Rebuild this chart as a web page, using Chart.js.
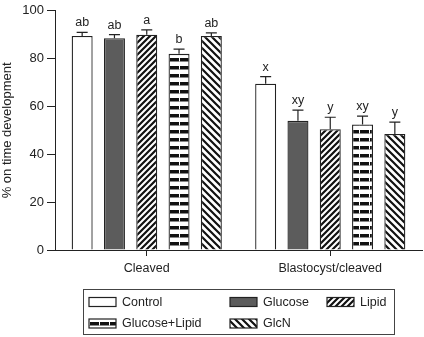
<!DOCTYPE html>
<html lang="en">
<head>
<meta charset="UTF-8">
<title>On time development</title>
<style>
    html, body { margin: 0; padding: 0; background: #fff; }
    #wrap { width: 424px; height: 337px; }
</style>
</head>
<body>
<div id="wrap"><canvas id="chart" width="424" height="337"></canvas></div>
<script src="https://cdn.jsdelivr.net/npm/chart.js"></script>
<script>
    // values
    const categories = ['Cleaved', 'Blastocyst/cleaved'];
    const seriesNames = ['Control', 'Glucose', 'Lipid', 'Glucose+Lipid', 'GlcN'];

    const control = [89.5, 69.5];
    const glucose = [88.5, 54];
    const lipid = [90, 50.5];
    const glucoseLipid = [82, 52.5];
    const glcn = [89.5, 48.5];

    const controlErr = [1.5, 3];
    const glucoseErr = [1.5, 4.5];
    const lipidErr = [2, 5];
    const glucoseLipidErr = [2, 3.5];
    const glcnErr = [1.3, 5];

    const controlLetters = ['ab', 'x'];
    const glucoseLetters = ['ab', 'xy'];
    const lipidLetters = ['a', 'y'];
    const glucoseLipidLetters = ['b', 'xy'];
    const glcnLetters = ['ab', 'y'];

    const yTicks = [0, 20, 40, 60, 80, 100];

    const ink = '#222';
    const font = "'Liberation Sans', Arial, sans-serif";

    function makePattern(w, h, draw) {
        const c = document.createElement('canvas');
        c.width = w; c.height = h;
        const g = c.getContext('2d');
        g.fillStyle = '#fff';
        g.fillRect(0, 0, w, h);
        g.fillStyle = '#111';
        g.strokeStyle = '#111';
        draw(g, w, h);
        return g.createPattern(c, 'repeat');
    }

    // "/" stripes
    const lipidPattern = makePattern(6, 6, (g, w, h) => {
        g.lineWidth = 2.2;
        g.beginPath();
        g.moveTo(-1, h + 1); g.lineTo(w + 1, -1);
        g.moveTo(-2, 2); g.lineTo(2, -2);
        g.moveTo(w - 2, h + 2); g.lineTo(w + 2, h - 2);
        g.stroke();
    });
    // "\" stripes
    const glcnPattern = makePattern(7, 7, (g, w, h) => {
        g.lineWidth = 2.2;
        g.beginPath();
        g.moveTo(-1, -1); g.lineTo(w + 1, h + 1);
        g.moveTo(-2, h - 2); g.lineTo(2, h + 2);
        g.moveTo(w - 2, -2); g.lineTo(w + 2, 2);
        g.stroke();
    });
    // horizontal brick bands
    const glPattern = makePattern(10, 8, (g, w, h) => {
        g.fillRect(0, 2, w, 3.5);
        g.fillStyle = '#fff';
        g.fillRect(w - 1, 2, 1, 3.5);
    });

    const fills = ['#ffffff', '#5c5c5c', lipidPattern, glPattern, glcnPattern];
    const values = [control, glucose, lipid, glucoseLipid, glcn];
    const errors = [controlErr, glucoseErr, lipidErr, glucoseLipidErr, glcnErr];
    const letters = [controlLetters, glucoseLetters, lipidLetters, glucoseLipidLetters, glcnLetters];

    const datasets = seriesNames.map((name, i) => ({
        label: name,
        data: values[i],
        backgroundColor: fills[i],
        borderColor: ink,
        borderWidth: 1.3,
        categoryPercentage: 0.88,
        barPercentage: 0.65
    }));

    // upper error whiskers and letters
    const errorBars = {
        id: 'errorBars',
        afterDatasetsDraw(chart) {
            const ctx = chart.ctx;
            const y = chart.scales.y;
            ctx.save();
            ctx.strokeStyle = ink;
            ctx.lineWidth = 1.2;
            ctx.fillStyle = ink;
            ctx.font = '12.5px ' + font;
            ctx.textAlign = 'center';
            ctx.textBaseline = 'alphabetic';
            chart.data.datasets.forEach((ds, i) => {
                chart.getDatasetMeta(i).data.forEach((bar, j) => {
                    const top = y.getPixelForValue(ds.data[j] + errors[i][j]);
                    ctx.beginPath();
                    ctx.moveTo(bar.x, bar.y);
                    ctx.lineTo(bar.x, top);
                    ctx.moveTo(bar.x - 5.5, top);
                    ctx.lineTo(bar.x + 5.5, top);
                    ctx.stroke();
                    ctx.fillText(letters[i][j], bar.x, top - 6);
                });
            });
            ctx.restore();
        }
    };

    // boxed legend below the plot
    const boxLegend = {
        id: 'boxLegend',
        afterDraw(chart) {
            const ctx = chart.ctx;
            ctx.save();
            ctx.strokeStyle = '#444';
            ctx.lineWidth = 1;
            ctx.strokeRect(83.5, 289.5, 311, 45);
            const cols = [89, 230, 327];
            const rows = [302, 323.5];
            const slots = [[0, 0], [1, 0], [2, 0], [0, 1], [1, 1]];
            ctx.font = '12.5px ' + font;
            ctx.textBaseline = 'middle';
            ctx.textAlign = 'left';
            chart.data.datasets.forEach((ds, i) => {
                const x = cols[slots[i][0]];
                const cy = rows[slots[i][1]];
                ctx.fillStyle = ds.backgroundColor;
                ctx.fillRect(x, cy - 4.5, 27, 9);
                ctx.strokeStyle = ink;
                ctx.lineWidth = 1.2;
                ctx.strokeRect(x, cy - 4.5, 27, 9);
                ctx.fillStyle = ink;
                ctx.fillText(ds.label, x + 33, cy + 0.5);
            });
            ctx.restore();
        }
    };

    new Chart(document.getElementById('chart'), {
        type: 'bar',
        data: { labels: categories, datasets: datasets },
        options: {
            responsive: false,
            animation: false,
            layout: { padding: { top: 6, right: 2, bottom: 55, left: 0 } },
            plugins: { legend: { display: false }, tooltip: { enabled: false } },
            scales: {
                x: {
                    grid: { offset: false, drawOnChartArea: false, tickLength: 6, color: ink },
                    border: { color: ink, width: 1 },
                    ticks: { color: ink, font: { family: font, size: 12.5 }, padding: 5 },
                    afterFit(scale) { scale.height = 32; }
                },
                y: {
                    min: 0,
                    max: 100,
                    afterBuildTicks(scale) { scale.ticks = yTicks.map(v => ({ value: v })); },
                    grid: { drawOnChartArea: false, tickLength: 8, color: ink },
                    border: { color: ink, width: 1 },
                    ticks: { color: ink, font: { family: font, size: 13 }, padding: 3 },
                    title: {
                        display: true,
                        text: '% on time development',
                        color: ink,
                        font: { family: font, size: 13 },
                        padding: { top: 0, bottom: 0 }
                    },
                    afterFit(scale) { scale.width = 55; }
                }
            }
        },
        plugins: [errorBars, boxLegend]
    });
</script>
</body>
</html>
